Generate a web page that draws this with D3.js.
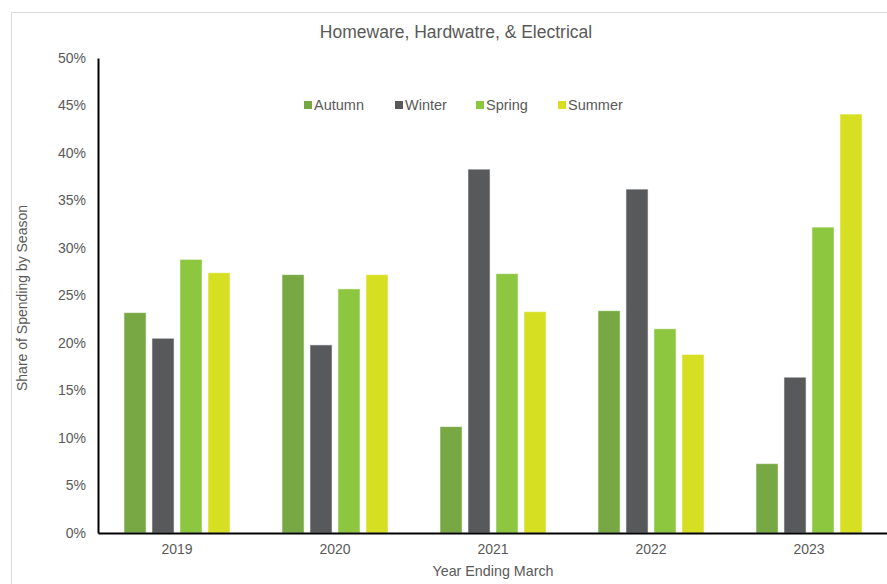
<!DOCTYPE html>
<html>
<head>
<meta charset="utf-8">
<script src="https://cdn.jsdelivr.net/npm/d3@7"></script>
<style>
  html, body { margin: 0; padding: 0; background: #fff; }
  svg { display: block; font-family: "Liberation Sans", Arial, sans-serif; }
</style>
</head>
<body>
<svg id="chart" width="887" height="584"></svg>
<script>
// Data: share of spending by season, years ending March
const years = ["2019", "2020", "2021", "2022", "2023"];
const seasons = ["Autumn", "Winter", "Spring", "Summer"];
const autumn = [0.232, 0.272, 0.112, 0.234, 0.073];
const winter = [0.205, 0.198, 0.383, 0.362, 0.164];
const spring = [0.288, 0.257, 0.273, 0.215, 0.322];
const summer = [0.274, 0.272, 0.233, 0.188, 0.441];
const yTicks = [0, 0.05, 0.10, 0.15, 0.20, 0.25, 0.30, 0.35, 0.40, 0.45, 0.50];
const seasonColors = ["#77a843", "#58595b", "#8dc63f", "#d7df23"];

const series = [autumn, winter, spring, summer];
const rows = years.map((y, i) => ({ year: y, values: series.map(s => s[i]) }));

const svg = d3.select("#chart");
const W = 887, H = 584;
const m = { left: 98, right: -1, top: 58, bottom: 51 };

// Outer chart frame
svg.append("line").attr("x1", 11.5).attr("x2", 11.5).attr("y1", 12).attr("y2", H)
  .attr("stroke", "#d9d9d9").attr("stroke-width", 1);
svg.append("line").attr("x1", 11).attr("x2", W).attr("y1", 12.5).attr("y2", 12.5)
  .attr("stroke", "#d9d9d9").attr("stroke-width", 1);

const x0 = d3.scaleBand().domain(years).range([m.left, W - m.right]).paddingInner(0.329).paddingOuter(0.1645);
const x1 = d3.scaleBand().domain(seasons).range([0, x0.bandwidth()]).paddingInner(0.21);
const y = d3.scaleLinear().domain([0, 0.5]).range([H - m.bottom, m.top]);

// Bars
const groups = svg.append("g").selectAll("g").data(rows).join("g")
  .attr("transform", d => `translate(${x0(d.year)},0)`);
groups.selectAll("rect")
  .data(d => d.values.map((v, i) => ({ season: seasons[i], value: v, i })))
  .join("rect")
  .attr("x", d => x1(d.season))
  .attr("width", x1.bandwidth())
  .attr("y", d => y(d.value))
  .attr("height", d => y(0) - y(d.value))
  .attr("fill", d => seasonColors[d.i])
  .attr("stroke", "#ffffff")
  .attr("stroke-opacity", 0.55)
  .attr("stroke-width", 1);

// Y axis
const yAxis = d3.axisLeft(y).tickValues(yTicks).tickFormat(d3.format(".0%")).tickSize(0).tickPadding(12);
const gy = svg.append("g").attr("transform", `translate(${m.left},0)`).call(yAxis);
gy.select(".domain").attr("stroke", "#000").attr("stroke-width", 2);
gy.selectAll("text").attr("fill", "#595959").attr("font-size", 14)
  .attr("font-family", "Liberation Sans, Arial, sans-serif");

// X axis
const xAxis = d3.axisBottom(x0).tickSize(0).tickPadding(11);
const gx = svg.append("g").attr("transform", `translate(0,${H - m.bottom})`).call(xAxis);
gx.select(".domain").attr("stroke", "#000").attr("stroke-width", 2);
gx.selectAll("text").attr("fill", "#595959").attr("font-size", 14)
  .attr("font-family", "Liberation Sans, Arial, sans-serif");

// Title
svg.append("text").attr("x", 456).attr("y", 38).attr("text-anchor", "middle")
  .attr("fill", "#595959").attr("font-size", 17.5).text("Homeware, Hardwatre, & Electrical");

// Axis titles
svg.append("text").attr("x", 493).attr("y", 576).attr("text-anchor", "middle")
  .attr("fill", "#595959").attr("font-size", 14.3).text("Year Ending March");
svg.append("text").attr("transform", "translate(27,298) rotate(-90)").attr("text-anchor", "middle")
  .attr("fill", "#595959").attr("font-size", 14).text("Share of Spending by Season");

// Legend
const legendX = [304, 395, 476, 558];
const legend = svg.append("g").selectAll("g").data(seasons).join("g")
  .attr("transform", (d, i) => `translate(${legendX[i]},105)`);
legend.append("rect").attr("x", 0).attr("y", -4).attr("width", 8).attr("height", 8)
  .attr("fill", (d, i) => seasonColors[i]);
legend.append("text").attr("x", 10).attr("y", 5).attr("fill", "#595959").attr("font-size", 14.5)
  .text(d => d);
</script>
</body>
</html>
